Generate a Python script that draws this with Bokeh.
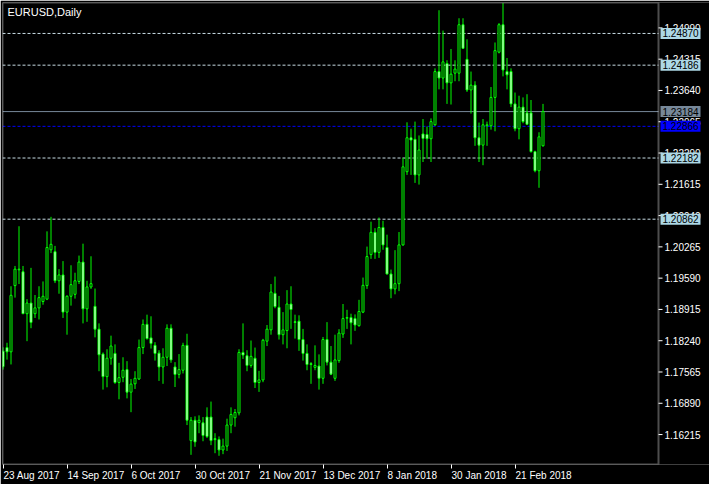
from bokeh.plotting import figure
from bokeh.models import (Range1d, LinearAxis, FixedTicker, CustomJSTickFormatter,
                          Label, BoxAnnotation, ColumnDataSource)
from bokeh.core.properties import value
from bokeh.embed import file_html
from bokeh.resources import INLINE

# ---------------- data ----------------
symbol_title = "EURUSD,Daily"

opens = [1.18014, 1.18092, 1.18000, 1.19429, 1.19770, 1.19728, 1.18823, 1.19053, 1.18823, 1.18948,
         1.19086, 1.19137, 1.20202, 1.20161, 1.19534, 1.19659, 1.18857, 1.19199, 1.19241, 1.19519,
         1.19937, 1.18928, 1.19400, 1.18982, 1.18489, 1.17952, 1.17465, 1.17862, 1.17966, 1.17339,
         1.17450, 1.17617, 1.17130, 1.17310, 1.17414, 1.18092, 1.18593, 1.18301, 1.18140, 1.17972,
         1.17674, 1.17883, 1.18510, 1.17674, 1.17513, 1.17603, 1.18140, 1.16085, 1.16524, 1.16474,
         1.16468, 1.16593, 1.16593, 1.16127, 1.16106, 1.15882, 1.15966, 1.16420, 1.16578, 1.16683,
         1.17987, 1.17916, 1.17707, 1.17862, 1.17339, 1.17394, 1.18230, 1.18474, 1.19262, 1.18961,
         1.18370, 1.18459, 1.19032, 1.18648, 1.18662, 1.18265, 1.17966, 1.17743, 1.17665, 1.17694,
         1.17429, 1.18265, 1.17778, 1.17429, 1.17811, 1.18384, 1.18725, 1.18740, 1.18718, 1.18564,
         1.18857, 1.19429, 1.20098, 1.20579, 1.20146, 1.20683, 1.20251, 1.19680, 1.19358, 1.19471,
         1.20307, 1.21887, 1.22619, 1.22585, 1.21818, 1.22702, 1.22690, 1.22598, 1.22899, 1.24048,
         1.23908, 1.24222, 1.23804, 1.24013, 1.24013, 1.25058, 1.24311, 1.23651, 1.23755, 1.22619,
         1.22460, 1.22878, 1.22878, 1.23490, 1.24466, 1.25058, 1.24048, 1.24048, 1.23350, 1.22815,
         1.23281, 1.23156, 1.23156, 1.22320, 1.21908, 1.22445]
highs = [1.18098, 1.18196, 1.19415, 1.19853, 1.20710, 1.19853, 1.19137, 1.19812, 1.19226, 1.19415,
         1.19519, 1.20600, 1.20913, 1.20286, 1.19784, 1.19958, 1.19220, 1.19868, 1.19707, 1.20077,
         1.20334, 1.19534, 1.20062, 1.19366, 1.18614, 1.17987, 1.18056, 1.18349, 1.18161, 1.17763,
         1.17883, 1.17799, 1.17414, 1.17582, 1.18265, 1.18698, 1.18802, 1.18767, 1.18209, 1.18035,
         1.18077, 1.18593, 1.18593, 1.17778, 1.17952, 1.18196, 1.18390, 1.16593, 1.16608, 1.16629,
         1.16593, 1.16802, 1.16927, 1.16244, 1.16175, 1.16127, 1.16557, 1.16802, 1.16766, 1.18056,
         1.18614, 1.18035, 1.18244, 1.18092, 1.17590, 1.18280, 1.18579, 1.19463, 1.19624, 1.19206,
         1.18857, 1.19331, 1.19415, 1.18802, 1.18788, 1.18495, 1.18161, 1.17778, 1.18140, 1.17945,
         1.18321, 1.18641, 1.18125, 1.18370, 1.18489, 1.19032, 1.18907, 1.18823, 1.18808, 1.19122,
         1.19603, 1.20271, 1.20809, 1.20669, 1.20898, 1.20829, 1.20528, 1.19776, 1.20194, 1.20585,
         1.22188, 1.22953, 1.22815, 1.22968, 1.22669, 1.23024, 1.22863, 1.23037, 1.24117, 1.25371,
         1.24932, 1.24291, 1.24535, 1.24291, 1.25198, 1.25198, 1.24744, 1.24048, 1.23839, 1.22947,
         1.23024, 1.22968, 1.23714, 1.24675, 1.25093, 1.25524, 1.24341, 1.24117, 1.23595, 1.23526,
         1.23490, 1.23559, 1.23434, 1.22340, 1.22738, 1.23350]
lows = [1.17617, 1.17832, 1.17728, 1.19170, 1.19463, 1.18815, 1.18230, 1.18510, 1.18731, 1.18698,
        1.19017, 1.19116, 1.20131, 1.19484, 1.19254, 1.18731, 1.18370, 1.18997, 1.19149, 1.19463,
        1.18614, 1.18648, 1.19358, 1.18313, 1.17582, 1.17185, 1.17235, 1.17722, 1.17310, 1.16976,
        1.17345, 1.16996, 1.16698, 1.17199, 1.17394, 1.17952, 1.18265, 1.18071, 1.17811, 1.17373,
        1.17310, 1.17694, 1.17763, 1.17241, 1.17429, 1.17534, 1.16420, 1.15778, 1.15951, 1.16244,
        1.16071, 1.16140, 1.15987, 1.15813, 1.15757, 1.15792, 1.15861, 1.16244, 1.16384, 1.16629,
        1.17847, 1.17582, 1.17659, 1.17220, 1.17136, 1.17345, 1.18125, 1.18370, 1.18940, 1.18265,
        1.18161, 1.18077, 1.18495, 1.18286, 1.18021, 1.17811, 1.17603, 1.17310, 1.17603, 1.17185,
        1.17310, 1.17707, 1.17498, 1.17373, 1.17763, 1.18301, 1.18495, 1.18161, 1.18453, 1.18543,
        1.18836, 1.19358, 1.20006, 1.20006, 1.20027, 1.20202, 1.19670, 1.19157, 1.19241, 1.19310,
        1.20290, 1.21818, 1.21818, 1.21645, 1.21609, 1.22096, 1.22167, 1.22096, 1.22878, 1.23664,
        1.23664, 1.23350, 1.23337, 1.23839, 1.23839, 1.24535, 1.23609, 1.23141, 1.22445, 1.22096,
        1.22027, 1.22445, 1.22794, 1.22759, 1.24440, 1.23944, 1.23664, 1.23281, 1.22759, 1.22585,
        1.22932, 1.22899, 1.22300, 1.21874, 1.21540, 1.22430]
closes = [1.17680, 1.18000, 1.19220, 1.19784, 1.19784, 1.18823, 1.19053, 1.18635, 1.18948, 1.19170,
          1.19199, 1.20251, 1.20320, 1.19534, 1.19659, 1.18857, 1.19199, 1.19450, 1.19534, 1.19937,
          1.18928, 1.19400, 1.19471, 1.18489, 1.17937, 1.17465, 1.17862, 1.18125, 1.17339, 1.17444,
          1.17603, 1.17130, 1.17304, 1.17429, 1.18092, 1.18593, 1.18286, 1.18181, 1.17966, 1.17674,
          1.17883, 1.18510, 1.17826, 1.17513, 1.17617, 1.18140, 1.16524, 1.16524, 1.16056, 1.16524,
          1.16196, 1.16175, 1.16085, 1.16106, 1.15882, 1.15966, 1.16420, 1.16649, 1.16691, 1.17987,
          1.17931, 1.17707, 1.17903, 1.17339, 1.17394, 1.18250, 1.18489, 1.19289, 1.18976, 1.18370,
          1.18474, 1.19032, 1.18913, 1.18635, 1.18265, 1.17966, 1.17728, 1.17728, 1.17707, 1.17429,
          1.18265, 1.17778, 1.17519, 1.17826, 1.18405, 1.18718, 1.18740, 1.18627, 1.18579, 1.18871,
          1.19435, 1.20056, 1.20579, 1.20146, 1.20683, 1.20307, 1.19680, 1.19358, 1.19471, 1.20307,
          1.21992, 1.22619, 1.22570, 1.21818, 1.22355, 1.22606, 1.22598, 1.22968, 1.24048, 1.23908,
          1.24257, 1.23804, 1.23992, 1.24102, 1.25058, 1.24550, 1.23651, 1.23755, 1.22619, 1.22460,
          1.22899, 1.22899, 1.23490, 1.24500, 1.25058, 1.24082, 1.23977, 1.23350, 1.22815, 1.23281,
          1.22968, 1.22911, 1.22320, 1.21908, 1.22639, 1.23184]
bar_index = list(range(len(opens)))

date_tick_bars = [0, 16, 32, 48, 64, 80, 96, 112, 128]
date_tick_labels = ["23 Aug 2017", "14 Sep 2017", "6 Oct 2017", "30 Oct 2017", "21 Nov 2017",
                    "13 Dec 2017", "8 Jan 2018", "30 Jan 2018", "21 Feb 2018"]
price_ticks = [1.16215, 1.16890, 1.17565, 1.18240, 1.18915, 1.19590, 1.20265,
               1.20940, 1.21615, 1.22290, 1.22965, 1.23640, 1.24315, 1.24990]
dashed_levels = [1.24870, 1.24186, 1.22182, 1.20862]
bid_level = 1.23184
blue_level = 1.22866
tag_levels = [1.24870, 1.24186, 1.23184, 1.22866, 1.22182, 1.20862]
tag_colors = ["#ADD8E6", "#ADD8E6", "#778899", "#0000FF", "#ADD8E6", "#ADD8E6"]

# ---------------- layout ----------------
W, H = 709, 484
BORDER_L, BORDER_T, BORDER_B = 2, 2, 20
FRAME_W = W - BORDER_L            # frame also hosts the price scale strip on the right
FRAME_H = H - BORDER_T - BORDER_B
CHART_W = 656                     # width of the candle area inside the frame
PX_PER_BAR = 4.0
X0 = -0.125
X1 = X0 + CHART_W / PX_PER_BAR    # right edge of the candle area (price scale line)
XE = X0 + FRAME_W / PX_PER_BAR
Y0, Y1 = 1.15569, 1.25538
PX_PER_PRICE = FRAME_H / (Y1 - Y0)
FONT = "Liberation Sans"
FS = "10px"
GREEN = "#00FF00"
def bars(px):
    return px / PX_PER_BAR
def price_px(px):
    return px / PX_PER_PRICE

p = figure(width=W, height=H, output_backend="svg", toolbar_location=None,
           x_range=Range1d(X0, XE), y_range=Range1d(Y0, Y1),
           x_axis_location=None, y_axis_location=None,
           min_border_left=BORDER_L, min_border_top=BORDER_T, min_border_right=0,
           min_border_bottom=BORDER_B,
           background_fill_color="black", border_fill_color="black",
           outline_line_color=None)
for g in p.grid:
    g.visible = False

# horizontal level lines (only across the candle area)
n_d = len(dashed_levels)
p.segment(x0=[X0] * n_d, y0=dashed_levels, x1=[X1] * n_d, y1=dashed_levels,
          line_color="#C8DCE4", line_dash="3 2", line_width=1)
p.segment(x0=[X0], y0=[bid_level], x1=[X1], y1=[bid_level], line_color="#778899", line_width=1)
p.segment(x0=[X0], y0=[blue_level], x1=[X1], y1=[blue_level], line_color="#0000FF",
          line_dash="3 2", line_width=1)

# candles
tops = [max(o, c) for o, c in zip(opens, closes)]
bottoms = [min(o, c) for o, c in zip(opens, closes)]
fills = ["black" if c > o else "white" for o, c in zip(opens, closes)]
src = ColumnDataSource(dict(x=bar_index, h=highs, l=lows, top=tops, bottom=bottoms, fill=fills))
p.segment(x0="x", y0="l", x1="x", y1="h", source=src, line_color=GREEN, line_width=1)
p.vbar(x="x", top="top", bottom="bottom", width=0.5, fill_color="fill",
       line_color=GREEN, line_width=1, source=src)

# border of candle area; its right edge is the price-scale line
p.add_layout(BoxAnnotation(left=X0, right=X1, bottom=Y0, top=Y1, fill_alpha=0,
                           line_color="white", line_width=2))

# price scale: tick marks and labels
n_t = len(price_ticks)
p.segment(x0=[X1] * n_t, y0=price_ticks, x1=[X1 + bars(4)] * n_t, y1=price_ticks,
          line_color="white", line_width=1)
p.text(x=[X1 + bars(6)] * n_t, y=price_ticks, text=[f"{t:.5f}" for t in price_ticks],
       text_color="white", text_font=value(FONT), text_font_size=value(FS),
       text_align="left", text_baseline="middle")

# price tags over the scale
n_g = len(tag_levels)
p.quad(left=[X1 + bars(2)] * n_g, right=[X1 + bars(42)] * n_g,
       bottom=[v - price_px(5.5) for v in tag_levels], top=[v + price_px(5.5) for v in tag_levels],
       fill_color=tag_colors, line_color=None)
p.text(x=[X1 + bars(4)] * n_g, y=tag_levels, text=[f"{v:.5f}" for v in tag_levels],
       text_color="black", text_font=value(FONT), text_font_size=value(FS),
       text_align="left", text_baseline="middle")

# bottom time axis: tick marks
xa = LinearAxis(ticker=FixedTicker(ticks=date_tick_bars),
                axis_line_color=None, major_tick_line_color="white",
                major_tick_out=4, major_tick_in=0, minor_tick_line_color=None,
                major_label_text_font_size="0px", major_label_text_alpha=0,
                major_label_standoff=0)
p.add_layout(xa, "below")

# bottom time axis: labels (left-aligned at their tick as in MetaTrader)
AW = {" ": 278, "A": 667, "S": 667, "O": 778, "N": 722, "D": 722, "J": 500, "F": 611,
      "u": 556, "g": 556, "e": 556, "p": 556, "c": 500, "t": 278, "o": 556, "v": 500,
      "a": 556, "n": 556, "b": 556}
def text_w(s, size=10):
    return sum(AW.get(ch, 556) for ch in s) * size / 1000.0
label_pos = [b + bars(text_w(s) / 2 + 0.5) for b, s in zip(date_tick_bars, date_tick_labels)]
xb = LinearAxis(ticker=FixedTicker(ticks=label_pos),
                formatter=CustomJSTickFormatter(args=dict(labels=date_tick_labels),
                                                code="return labels[index];"),
                axis_line_color=None, major_tick_line_color=None, minor_tick_line_color=None,
                major_tick_out=0, major_tick_in=0,
                major_label_text_color="white", major_label_text_font=FONT,
                major_label_text_font_size=FS, major_label_standoff=1)
p.add_layout(xb, "below")

# title
p.add_layout(Label(x=X0, y=Y1, x_offset=5, y_offset=-3, text=symbol_title, text_font=FONT,
                   text_font_size="11px", text_color="white", text_align="left",
                   text_baseline="top"))

open("out.html", "w").write(file_html(p, INLINE))
